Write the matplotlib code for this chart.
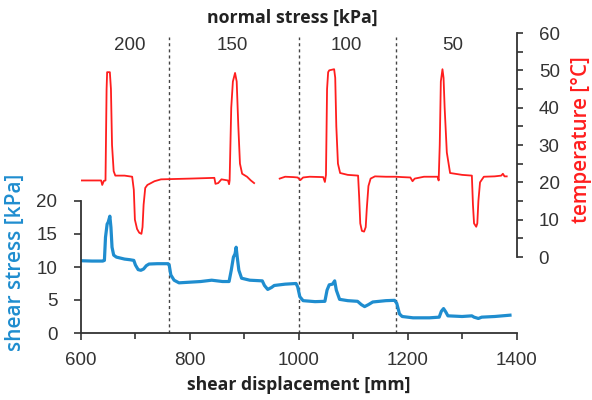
import matplotlib
matplotlib.use('Agg')
import matplotlib.pyplot as plt
import numpy as np
from matplotlib.transforms import blended_transform_factory
from matplotlib.ticker import MultipleLocator

# ---------------- data ----------------
shear_x = [600, 620, 640, 643, 645, 648, 650, 653, 655, 657, 660, 665, 680, 690, 697,
           700, 705, 710, 715, 720, 725, 740, 760, 762, 765, 771, 780, 800, 820, 840,
           860, 872, 876, 880, 883, 885, 887, 890, 895, 910, 933, 937, 943, 950, 955,
           975, 995, 998, 1002, 1008, 1030, 1048, 1052, 1056, 1062, 1066, 1069, 1075,
           1090, 1108, 1115, 1121, 1128, 1136, 1160, 1176, 1180, 1185, 1190, 1210, 1240,
           1258, 1262, 1266, 1270, 1274, 1300, 1318, 1322, 1330, 1336, 1360, 1388]
shear_y = [10.95, 10.9, 10.9, 11.0, 14.5, 16.5, 16.8, 17.7, 16.0, 13.0, 11.8, 11.5, 11.2, 11.1, 11.0,
           10.3, 9.6, 9.5, 9.7, 10.2, 10.45, 10.5, 10.5, 10.3, 8.8, 8.0, 7.6, 7.7, 7.8, 8.0,
           7.8, 7.8, 9.5, 11.5, 12.0, 13.0, 11.5, 9.5, 8.3, 8.0, 7.9, 7.2, 6.6, 6.9, 7.2,
           7.4, 7.5, 7.0, 5.5, 4.9, 4.75, 4.8, 6.5, 7.3, 7.4, 7.9, 6.5, 5.1,
           4.9, 4.8, 4.3, 4.0, 4.3, 4.7, 4.9, 4.95, 4.5, 2.9, 2.5, 2.3, 2.3,
           2.4, 3.3, 3.7, 3.2, 2.6, 2.5, 2.6, 2.4, 2.2, 2.4, 2.5, 2.7]

temp1_x = [600, 637, 639, 642, 645, 647, 648, 653, 655, 657, 660, 663, 680, 694, 697,
           699, 703, 707, 711, 713, 715, 718, 722, 735, 747, 800, 845, 847, 852, 858,
           870, 872, 873, 876, 879, 883, 886, 889, 892, 896, 905, 912, 918]
temp1_y = [20.5, 20.5, 19.3, 20.4, 20.5, 45, 49.5, 49.5, 45, 30, 23, 21.8, 21.8, 21.5, 18,
           10, 7.5, 6.5, 6.2, 8, 14, 18.5, 19.3, 20.3, 20.8, 21.0, 21.2, 19.6, 19.8, 20.8,
           20.5, 19.5, 20.5, 40, 47, 49.3, 47, 35, 25, 22.3, 21.5, 20.5, 19.8]

temp2_x = [965, 975, 990, 998, 1003, 1008, 1020, 1045, 1048, 1050, 1052, 1054, 1056, 1065,
           1067, 1069, 1072, 1076, 1090, 1109, 1111, 1113, 1116, 1120, 1123, 1125, 1128,
           1132, 1140, 1160, 1178, 1190, 1205, 1209, 1213, 1230, 1255, 1257, 1259, 1261,
           1264, 1266, 1268, 1272, 1278, 1300, 1318, 1320, 1322, 1326, 1328, 1330, 1333,
           1340, 1360, 1372, 1375, 1378, 1382]
temp2_y = [21.0, 21.5, 21.4, 21.3, 20.6, 21.3, 21.5, 21.4, 20.1, 22, 45, 49.5, 50, 50.3,
           48, 35, 25, 22.5, 22.0, 21.8, 16, 9, 7, 6.8, 8, 13, 19,
           21, 21.6, 21.5, 21.5, 21.4, 21.3, 20.3, 21.0, 21.5, 21.5, 20.5, 30, 47,
           50.3, 48, 40, 28, 22.5, 22.0, 21.8, 14, 9, 8.1, 9, 15, 20,
           21.5, 21.6, 21.8, 22.3, 21.6, 21.6]

stage_bounds = [762, 1000, 1178]
stage_label_x = [690, 878, 1088, 1282]
stage_labels = ['200', '150', '100', '50']

# ---------------- layout ----------------
W, H = 592, 400
def fx(px): return px / W
def fy(py): return 1 - py / H

BLUE = '#1f8dcf'
RED = '#ff1e1e'
DARK = '#333333'
TICKFONT = 'Liberation Sans'
LABFONT = 'Open Sans'

fig = plt.figure(figsize=(W / 100, H / 100), dpi=100)

ax1 = fig.add_axes([fx(81), fy(333), fx(516.5) - fx(81), fy(201) - fy(333)])
ax2 = fig.add_axes([fx(81), fy(257), fx(516.5) - fx(81), fy(33) - fy(257)])
for a in (ax1, ax2):
    a.patch.set_alpha(0)
    a.set_xlim(600, 1400)

# shear axes
ax1.plot(shear_x, shear_y, color=BLUE, lw=2.3, solid_joinstyle='round')
ax1.set_ylim(0, 20)
for s in ('top', 'right'):
    ax1.spines[s].set_visible(False)
for s in ('left', 'bottom'):
    ax1.spines[s].set_color(DARK)
    ax1.spines[s].set_linewidth(1.3)
ax1.set_xticks([600, 800, 1000, 1200, 1400])
ax1.xaxis.set_minor_locator(MultipleLocator(100))
ax1.set_yticks([0, 5, 10, 15, 20])
ax1.tick_params(axis='both', which='both', direction='out', color=DARK, width=1.2,
                labelcolor=DARK, labelsize=13.5)
ax1.tick_params(axis='x', which='major', length=5, pad=9)
ax1.tick_params(axis='x', which='minor', length=4)
ax1.tick_params(axis='y', which='major', length=5, pad=12)
for lab in ax1.get_xticklabels() + ax1.get_yticklabels():
    lab.set_fontfamily(TICKFONT)

# temperature axes
ax2.plot(temp1_x, temp1_y, color=RED, lw=1.3)
ax2.plot(temp2_x, temp2_y, color=RED, lw=1.3)
ax2.set_ylim(0, 60)
for s in ('top', 'left', 'bottom'):
    ax2.spines[s].set_visible(False)
ax2.spines['right'].set_color(DARK)
ax2.spines['right'].set_linewidth(1.3)
ax2.set_xticks([])
ax2.yaxis.tick_right()
ax2.set_yticks([0, 10, 20, 30, 40, 50, 60])
ax2.yaxis.set_minor_locator(MultipleLocator(5))
ax2.tick_params(axis='y', which='both', direction='out', color=DARK, width=1.2,
                length=4, labelcolor=DARK, labelsize=13.5, pad=12)
for lab in ax2.get_yticklabels():
    lab.set_fontfamily(TICKFONT)

# stage boundaries
trans = blended_transform_factory(ax1.transData, fig.transFigure)
for xb in stage_bounds:
    ax1.plot([xb, xb], [fy(333), fy(37)], transform=trans, color='#444444', lw=1.0,
             ls=(0, (2.2, 2.2)), clip_on=False, zorder=0)
for xl, t in zip(stage_label_x, stage_labels):
    ax1.text(xl, fy(46), t, transform=trans, ha='center', va='center',
             fontsize=13.5, color=DARK, family=TICKFONT)

# labels
fig.text(fx(292), fy(18), 'normal stress [kPa]', ha='center', va='center',
         fontsize=12.8, fontweight='bold', color='#222222', family=LABFONT)
fig.text(fx(299), fy(385), 'shear displacement [mm]', ha='center', va='center',
         fontsize=12.7, fontweight='bold', color='#222222', family=LABFONT)
fig.text(fx(15), fy(262), 'shear stress [kPa]', ha='center', va='center', rotation=90,
         fontsize=15, fontweight='semibold', color=BLUE, family=LABFONT)
fig.text(fx(581), fy(140), 'temperature [°C]', ha='center', va='center', rotation=90,
         fontsize=14.8, fontweight='semibold', color=RED, family=LABFONT)

fig.savefig('out.png', dpi=100)
